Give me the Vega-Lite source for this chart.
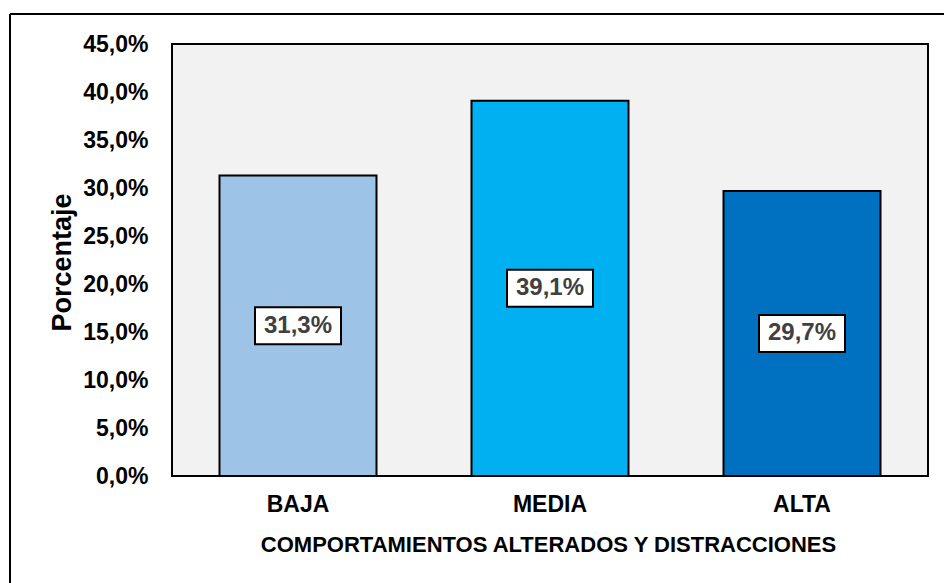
{
  "$schema": "https://vega.github.io/schema/vega-lite/v6.json",
  "width": 934,
  "height": 569,
  "autosize": {"type": "none"},
  "padding": {"left": 10, "top": 14, "right": 0, "bottom": 0},
  "background": "white",
  "view": {"fill": "white", "stroke": "black", "strokeWidth": 2, "strokeDash": [934, 1503, 569, 0]},
  "data": {
    "values": [
      {"nivel": "BAJA", "pct": 0.313},
      {"nivel": "MEDIA", "pct": 0.391},
      {"nivel": "ALTA", "pct": 0.297}
    ]
  },
  "layer": [
    {
      "data": {"values": [{"panel": "fondo"}]},
      "mark": {"type": "rect", "fill": "#F2F2F2", "stroke": "black", "strokeWidth": 2},
      "encoding": {
        "x": {"datum": 0, "type": "quantitative", "scale": {"domain": [0, 1], "range": [162, 918], "nice": false}, "axis": null},
        "x2": {"datum": 1},
        "y": {"datum": 0, "type": "quantitative", "scale": {"domain": [0, 0.45], "range": [462, 30], "nice": false}, "axis": null},
        "y2": {"datum": 0.45}
      }
    },
    {
      "mark": {"type": "bar", "stroke": "black", "strokeWidth": 2},
      "encoding": {
        "x": {
          "field": "nivel", "type": "nominal", "sort": ["BAJA", "MEDIA", "ALTA"],
          "scale": {"range": [162, 918], "paddingInner": 0.377, "paddingOuter": 0.1885},
          "axis": {
            "orient": "bottom", "offset": -107, "domain": false, "ticks": false, "tickSize": 0, "grid": false,
            "labelAngle": 0, "labelPadding": 17, "labelFont": "Liberation Sans", "labelFontSize": 23,
            "labelFontWeight": "bold", "labelColor": "black",
            "title": "COMPORTAMIENTOS ALTERADOS Y DISTRACCIONES",
            "titleFont": "Liberation Sans", "titleFontSize": 22, "titleFontWeight": "bold", "titleColor": "black",
            "titleX": 538, "titleY": 75, "titleBaseline": "alphabetic", "titleAlign": "center"
          }
        },
        "y": {
          "field": "pct", "type": "quantitative",
          "scale": {"domain": [0, 0.45], "range": [462, 30], "nice": false},
          "axis": {
            "orient": "left", "offset": -162, "format": ".1%",
            "values": [0, 0.05, 0.1, 0.15, 0.2, 0.25, 0.3, 0.35, 0.4, 0.45],
            "domain": false, "ticks": false, "tickSize": 0, "grid": false, "labelOverlap": false,
            "labelPadding": 24, "labelFont": "Liberation Sans", "labelFontSize": 23,
            "labelFontWeight": "bold", "labelColor": "black",
            "title": "Porcentaje", "titleFont": "Liberation Sans", "titleFontSize": 27,
            "titleFontWeight": "bold", "titleColor": "black", "titleAngle": -90,
            "titleX": -102, "titleY": 248, "titleAlign": "center", "titleBaseline": "alphabetic"
          }
        },
        "color": {
          "field": "nivel", "type": "nominal",
          "scale": {"domain": ["BAJA", "MEDIA", "ALTA"], "range": ["#9DC3E6", "#00B0F0", "#0070C0"]},
          "legend": null
        }
      }
    },
    {
      "mark": {
        "type": "point", "shape": "M-1,-0.43H1V0.43H-1Z", "size": 7396,
        "filled": true, "fill": "white", "stroke": "black", "strokeWidth": 2, "opacity": 1, "fillOpacity": 1
      },
      "encoding": {
        "x": {
          "field": "nivel", "type": "nominal", "sort": ["BAJA", "MEDIA", "ALTA"],
          "scale": {"range": [162, 918], "paddingInner": 0.377, "paddingOuter": 0.1885}, "axis": null
        },
        "y": {"field": "pct", "type": "quantitative", "scale": {"domain": [0, 0.9], "range": [462, 30], "nice": false}, "axis": null}
      }
    },
    {
      "mark": {
        "type": "text", "font": "Liberation Sans", "fontSize": 24, "fontWeight": "bold",
        "fill": "#404040", "align": "center", "baseline": "middle"
      },
      "encoding": {
        "x": {
          "field": "nivel", "type": "nominal", "sort": ["BAJA", "MEDIA", "ALTA"],
          "scale": {"range": [162, 918], "paddingInner": 0.377, "paddingOuter": 0.1885}, "axis": null
        },
        "y": {"field": "pct", "type": "quantitative", "scale": {"domain": [0, 0.9], "range": [462, 30], "nice": false}, "axis": null},
        "text": {"field": "pct", "type": "quantitative", "format": ".1%"}
      }
    }
  ],
  "resolve": {"scale": {"x": "independent", "y": "independent"}},
  "config": {
    "locale": {
      "number": {"decimal": ",", "thousands": ".", "grouping": [3], "currency": ["", " €"]}
    }
  }
}
